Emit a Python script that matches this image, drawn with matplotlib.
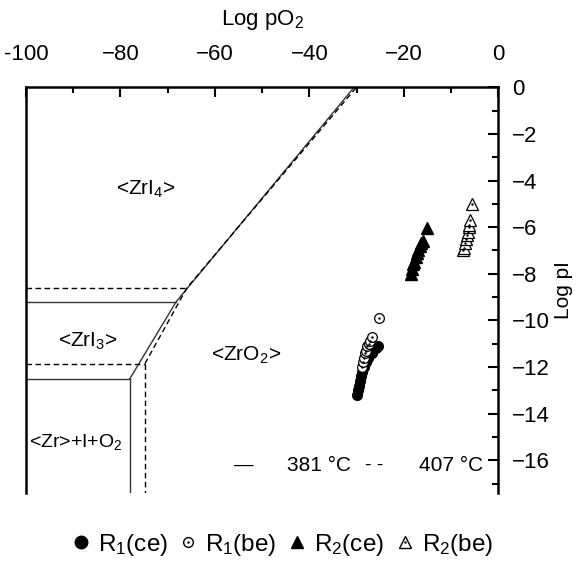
import numpy as np
import matplotlib
matplotlib.use('Agg')
import matplotlib.pyplot as plt
from matplotlib.lines import Line2D
from matplotlib.legend_handler import HandlerTuple

plt.rcParams['font.family'] = ['Liberation Sans Narrow', 'Liberation Sans', 'DejaVu Sans']
plt.rcParams['mathtext.default'] = 'regular'

# measured points (log pO2, log pI)
r1_ce_x = [-29.9, -29.7, -29.4, -29.2, -29.0, -28.8, -28.4, -28.0, -27.5, -26.7, -25.8, -25.4]
r1_ce_y = [-13.2, -13.0, -12.8, -12.6, -12.4, -12.2, -12.0, -11.8, -11.6, -11.4, -11.2, -11.1]
r1_be_x = [-28.8, -28.6, -28.4, -28.2, -28.0, -27.8, -27.3, -27.1, -26.7, -25.2]
r1_be_y = [-12.0, -11.8, -11.6, -11.4, -11.3, -11.1, -11.0, -10.9, -10.7, -9.9]
r2_ce_x = [-18.4, -18.2, -18.0, -17.8, -17.4, -17.2, -16.9, -16.5, -16.3, -15.9, -15.0]
r2_ce_y = [-8.0, -7.8, -7.6, -7.5, -7.3, -7.1, -7.0, -6.8, -6.7, -6.6, -6.05]
r2_be_x = [-7.4, -7.2, -7.0, -6.8, -6.6, -6.4, -6.2, -6.1, -5.9, -5.5]
r2_be_y = [-7.0, -6.9, -6.7, -6.5, -6.35, -6.2, -6.0, -5.9, -5.7, -5.0]

# phase boundary nodes per temperature: (ZrI4/ZrI3/ZrO2), (ZrI3/Zr/ZrO2), x at logpI = 0
t381_upper = (-68.2, -9.2)
t381_lower = (-78.0, -12.5)
t381_top = -30.5
t407_upper = (-65.9, -8.6)
t407_lower = (-74.8, -11.85)
t407_top = -30.0

xmin, xmax = -100, 0
ymin, ymax = -17.4, 0

fig = plt.figure(figsize=(5.76, 5.70), dpi=100)
ax = fig.add_axes([0.045, 0.135, 0.82, 0.712])


def boundaries(upper, lower, top, ls, color):
    kw = dict(color=color, lw=1.0, ls=ls)
    if ls == '--':
        kw['dashes'] = (4, 2.5)
    ax.plot([xmin, upper[0]], [upper[1], upper[1]], **kw)
    ax.plot([xmin, lower[0]], [lower[1], lower[1]], **kw)
    ax.plot([lower[0], lower[0]], [lower[1], ymin], **kw)
    ax.plot([lower[0], upper[0], top], [lower[1], upper[1], ymax], **kw)


boundaries(t381_upper, t381_lower, t381_top, '-', '#333333')
boundaries(t407_upper, t407_lower, t407_top, '--', 'black')

ms = 7
ax.plot(r1_ce_x, r1_ce_y, 'o', color='black', ms=ms, ls='none')
ax.plot(r1_be_x, r1_be_y, 'o', mfc='white', mec='black', mew=0.9, ms=ms, ls='none')
ax.plot(r1_be_x, r1_be_y, '.', color='black', ms=1.5, ls='none')
ax.plot(r2_ce_x, r2_ce_y, '^', color='black', ms=ms + 1, ls='none')
ax.plot(r2_be_x, r2_be_y, '^', mfc='white', mec='black', mew=0.9, ms=ms + 1, ls='none')
ax.plot(r2_be_x, r2_be_y, '.', color='black', ms=1.5, ls='none')

# phase labels
ax.text(-74.7, -4.4, '<ZrI$_4$>', fontsize=15, ha='center', va='center')
ax.text(-86.8, -10.9, '<ZrI$_3$>', fontsize=15, ha='center', va='center')
ax.text(-53.4, -11.5, '<ZrO$_2$>', fontsize=15, ha='center', va='center')
ax.text(-89.4, -15.2, '<Zr>+I+O$_2$', fontsize=14, ha='center', va='center')

# temperature key
ax.text(-53.8, -16.2, '—', fontsize=14, ha='center', va='center')
ax.text(-44.7, -16.2, '381 °C', fontsize=15, ha='left', va='center')
ax.text(-26.2, -16.2, '- -', fontsize=14, ha='center', va='center')
ax.text(-16.8, -16.2, '407 °C', fontsize=15, ha='left', va='center')

ax.set_xlim(xmin, xmax)
ax.set_ylim(ymin, ymax)

ax.xaxis.tick_top()
ax.xaxis.set_label_position('top')
ax.yaxis.tick_right()
ax.yaxis.set_label_position('right')

xticks = [-100, -80, -60, -40, -20, 0]
xticklabels = ['-100', '−80', '−60', '−40', '−20', '0']
yticks = [0, -2, -4, -6, -8, -10, -12, -14, -16]
yticklabels = ['0', '−2', '−4', '−6', '−8', '−10', '−12', '−14', '−16']
ax.set_xticks(xticks)
ax.set_xticklabels(xticklabels)
ax.set_xticks(np.arange(-90, 0, 20), minor=True)
ax.set_yticks(yticks)
ax.set_yticklabels(yticklabels)
ax.set_yticks(np.arange(-1, -18, -2), minor=True)

ax.tick_params(axis='x', which='both', direction='in', top=True, bottom=False,
               labeltop=True, labelbottom=False, width=1.5, labelsize=16)
ax.tick_params(axis='y', which='both', direction='in', right=True, left=False,
               labelright=True, labelleft=False, width=1.5, labelsize=16)
ax.tick_params(axis='x', which='major', length=7, pad=16)
ax.tick_params(axis='y', which='major', length=7, pad=10)
ax.tick_params(which='minor', length=4.5)

ax.spines['bottom'].set_visible(False)
for s in ['top', 'left', 'right']:
    ax.spines[s].set_linewidth(1.8)

ax.set_xlabel('Log pO$_2$', fontsize=16, labelpad=14)
ax.set_ylabel('Log pI', fontsize=15, labelpad=3)

handles = [
    Line2D([], [], marker='o', color='black', ls='none', ms=9),
    (Line2D([], [], marker='o', mfc='white', mec='black', ls='none', ms=7),
     Line2D([], [], marker='.', color='black', ls='none', ms=1.5)),
    Line2D([], [], marker='^', color='black', ls='none', ms=8),
    (Line2D([], [], marker='^', mfc='white', mec='black', ls='none', ms=8),
     Line2D([], [], marker='.', color='black', ls='none', ms=1.5)),
]
labels = ['R$_1$(ce)', 'R$_1$(be)', 'R$_2$(ce)', 'R$_2$(be)']
fig.legend(handles, labels, loc='center', bbox_to_anchor=(0.492, 0.044), ncol=4,
           frameon=False, handlelength=0.6, handletextpad=0.4, columnspacing=0.55,
           prop={'family': ['Liberation Sans', 'DejaVu Sans'], 'size': 17.5},
           handler_map={tuple: HandlerTuple(ndivide=1)})

fig.savefig('out.png', dpi=100)
